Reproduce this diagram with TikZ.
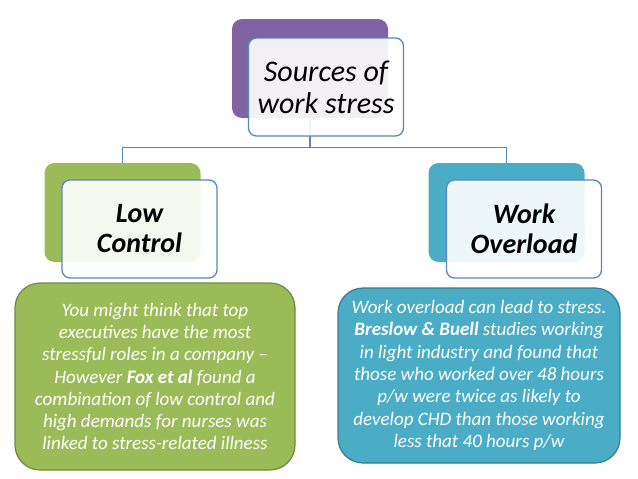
\documentclass[tikz,border=0pt]{standalone}
\usepackage{fontspec}
\setmainfont{Carlito}
\usetikzlibrary{positioning}
\definecolor{purplebox}{HTML}{8064A2}
\definecolor{greenbox}{HTML}{9BBB59}
\definecolor{greenline}{HTML}{71893F}
\definecolor{tealbox}{HTML}{4BACC6}
\definecolor{tealline}{HTML}{357D91}
\definecolor{linkblue}{HTML}{5A87BB}

\begin{document}
\begin{tikzpicture}[x=1pt, y=-1pt,
  back/.style={rectangle, rounded corners=10pt, fill=#1, minimum width=156pt, minimum height=99pt},
  front/.style={rectangle, rounded corners=8pt, draw=linkblue, line width=1.3pt, fill=white, fill opacity=0.9, text opacity=1, minimum width=155pt, minimum height=98pt, align=center},
  info/.style={rectangle, rounded corners=25pt, draw=#1, line width=1.2pt, align=center, text=white, font=\fontsize{19}{22.3}\selectfont\itshape},
  link/.style={draw=linkblue, line width=1.3pt}
]
  \useasboundingbox (0,0) rectangle (638,479);
  % back boxes
  \node[back=purplebox] (srcback) at (310, 68.5) {};
  \node[back=greenbox] (lowback) at (122.5, 212.5) {};
  \node[back=tealbox] (overback) at (506.5, 212.5) {};
  % connectors
  \draw[link] (srcback.south) -- ++(0,29) coordinate (bus) -| (lowback.north);
  \draw[link] (bus) -| (overback.north);
  % front boxes
  \node[front, font=\fontsize{30}{32}\selectfont\itshape] (src) at (326, 87) {Sources of\\work stress};
  \node[front, font=\fontsize{28}{30}\selectfont\bfseries\itshape] (low) at (139.5, 229) {Low\\Control};
  \node[front, font=\fontsize{28}{30}\selectfont\bfseries\itshape] (over) at (524, 229) {Work\\Overload};
  % detail boxes
  \node[info=greenline, fill=greenbox, minimum width=280pt, minimum height=187pt] (lowinfo) at (155, 376.5)
    {You might think that top\\executives have the most\\stressful roles in a company --\\However \textbf{Fox et al} found a\\combination of low control and\\high demands for nurses was\\linked to stress-related illness};
  \node[info=tealline, fill=tealbox, minimum width=282pt, minimum height=175pt] (overinfo) at (479, 375.5)
    {Work overload can lead to stress.\\\textbf{Breslow \& Buell} studies working\\in light industry and found that\\those who worked over 48 hours\\p/w were twice as likely to\\develop CHD than those working\\less that 40 hours p/w};
\end{tikzpicture}
\end{document}
